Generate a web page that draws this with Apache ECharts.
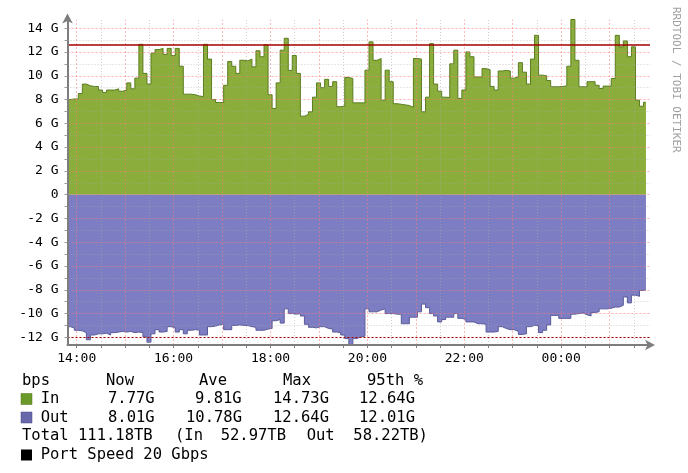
<!DOCTYPE html>
<html><head><meta charset="utf-8">
<script src="https://cdn.jsdelivr.net/npm/echarts@6/dist/echarts.min.js"></script>
<style>html,body{margin:0;padding:0;background:#fff}#c{width:688px;height:473px}</style>
</head><body><div id="c"></div>
<script>
// Time in minutes relative to 14:00; samples every 5 minutes
const startMinute = -13;
const stepMinutes = 5;
const endMinute = 705;

// Inbound traffic, Gbps
const inValues = [
 8.0, 8.05, 8.05, 8.5, 9.3, 9.15, 9.1, 9.1, 8.8, 8.6,
 8.8, 8.8, 8.9, 8.7, 8.8, 9.4, 8.9, 9.8, 12.64, 10.2,
 9.3, 11.9, 12.2, 12.3, 11.8, 12.3, 11.7, 12.3, 10.8, 8.45,
 8.45, 8.4, 8.3, 8.25, 12.64, 11.4, 8.0, 7.75, 7.75, 9.2,
 11.2, 10.8, 10.2, 11.3, 11.25, 11.4, 10.75, 12.1, 11.6, 12.6,
 8.4, 7.25, 9.4, 12.15, 13.15, 10.45, 11.7, 10.2, 6.6, 6.75,
 6.97, 8.2, 9.4, 9.0, 9.7, 9.1, 9.5, 7.4, 7.45, 9.85,
 9.77, 7.72, 7.72, 7.72, 10.47, 12.85, 11.3, 11.45, 7.95, 10.47,
 9.5, 7.65, 7.6, 7.55, 7.5, 7.35, 11.45, 11.4, 6.97, 8.2,
 12.7, 9.3, 8.7, 8.2, 8.17, 11.0, 12.15, 8.1, 8.8, 12.0,
 11.6, 9.9, 9.9, 10.6, 10.5, 9.1, 8.8, 10.4, 10.45, 10.4,
 9.8, 9.9, 11.1, 10.3, 9.3, 11.4, 13.4, 10.05, 10.0, 9.6,
 9.07, 9.07, 9.1, 9.15, 10.8, 14.73, 11.3, 9.07, 9.07, 9.5,
 9.5, 9.2, 8.93, 9.13, 9.13, 9.77, 13.4, 12.43, 12.93, 11.6,
 12.43, 7.95, 7.44, 7.77
];

// Outbound traffic, Gbps (drawn below zero)
const outValues = [
 11.1, 11.2, 11.4, 11.45, 11.6, 12.2, 11.8, 11.7, 11.7, 11.65,
 11.8, 11.6, 11.55, 11.5, 11.55, 11.5, 11.6, 11.55, 11.6, 11.95,
 12.4, 11.7, 11.35, 11.55, 11.5, 11.1, 11.2, 11.55, 11.35, 11.7,
 11.4, 11.35, 11.4, 11.8, 11.8, 11.1, 11.05, 10.95, 10.9, 11.35,
 11.35, 11.0, 10.95, 11.0, 11.0, 11.1, 11.15, 11.4, 11.4, 11.3,
 11.25, 10.6, 10.5, 10.8, 9.6, 10.0, 10.05, 10.0, 10.2, 10.9,
 11.15, 11.2, 11.1, 11.1, 11.25, 11.3, 11.55, 11.6, 11.8, 12.1,
 12.64, 12.1, 11.95, 11.9, 9.6, 9.85, 9.85, 9.7, 9.6, 10.0,
 10.0, 10.05, 10.05, 10.85, 10.85, 10.3, 10.3, 9.85, 9.2, 9.5,
 10.0, 10.2, 10.7, 10.5, 10.3, 10.3, 10.0, 10.4, 10.5, 10.7,
 10.7, 10.85, 10.85, 10.9, 11.55, 11.55, 11.5, 11.1, 11.25, 11.35,
 11.35, 11.5, 11.75, 11.7, 11.1, 11.0, 11.0, 11.6, 11.4, 10.95,
 10.15, 10.15, 10.4, 10.4, 10.4, 10.05, 10.0, 9.95, 10.1, 10.2,
 9.9, 9.85, 9.6, 9.6, 9.55, 9.45, 9.45, 9.3, 8.6, 9.1,
 8.45, 8.55, 8.05, 8.01
];

const inPct95 = 12.64;
const outPct95 = 12.01;

const yMin = -12.64, yMax = 14.73;
const yLabelValues = [-12, -10, -8, -6, -4, -2, 0, 2, 4, 6, 8, 10, 12, 14];
const yMinorValues = [-11, -9, -7, -5, -3, -1, 1, 3, 5, 7, 9, 11, 13];
const xMin = -11.4, xMax = 710;
const xLabelValues = [0, 120, 240, 360, 480, 600];
const xHourValues = [0, 60, 120, 180, 240, 300, 360, 420, 480, 540, 600, 660];
const xHalfHourValues = [30, 90, 150, 210, 270, 330, 390, 450, 510, 570, 630, 690];

const legendHeader = ['bps', 'Now', 'Ave', 'Max', '95th %'];
const legendIn = ['In', '7.77G', '9.81G', '14.73G', '12.64G'];
const legendOut = ['Out', '8.01G', '10.78G', '12.64G', '12.01G'];
const totalRow = ['Total', '111.18TB', '(In', '52.97TB', 'Out', '58.22TB)'];
const portSpeed = 'Port Speed 20 Gbps';
const watermark = 'RRDTOOL / TOBI OETIKER';

function toSeries(vals, sign) {
  const d = vals.map((v, i) => [startMinute + i * stepMinutes, sign * v]);
  d.push([endMinute, sign * vals[vals.length - 1]]);
  return d;
}
function fmtTime(v) {
  const m = ((14 * 60 + v) % 1440 + 1440) % 1440;
  const h = Math.floor(m / 60), mm = m % 60;
  return String(h).padStart(2, '0') + ':' + String(mm).padStart(2, '0');
}

const MONO = 'DejaVu Sans Mono';
const majorStyle = { color: 'rgba(255,120,120,0.6)', width: 1, type: [2, 2] };
const majorVStyle = { color: 'rgba(255,120,120,0.5)', width: 1, type: [2, 2] };
const minorStyle = { color: 'rgba(170,170,170,0.55)', width: 1, type: [1, 2] };

const gridLines = [];
yLabelValues.forEach(v => gridLines.push({ yAxis: v, lineStyle: majorStyle }));
yMinorValues.forEach(v => gridLines.push({ yAxis: v, lineStyle: minorStyle }));
xHourValues.forEach(v => gridLines.push({ xAxis: v, lineStyle: majorVStyle }));
xHalfHourValues.forEach(v => gridLines.push({ xAxis: v, lineStyle: minorStyle }));

const chart = echarts.init(document.getElementById('c'), null, { renderer: 'canvas' });

const graphics = [];
function txt(x, y, s) {
  graphics.push({
    type: 'text', x: x, y: y,
    style: { text: s, fill: '#000', font: '15.5px "' + MONO + '"', textVerticalAlign: 'middle', textAlign: 'left' }
  });
}
const colX = [22, 106, 199, 283, 367];
legendHeader.forEach((s, i) => txt(colX[i], 381, s));
const rowX = [40.7, 108, 195, 273, 359];
const rowXOut = [40.7, 108, 186, 273, 359];
legendIn.forEach((s, i) => txt(rowX[i], 399, s));
legendOut.forEach((s, i) => txt(rowXOut[i], 417.5, s));
const totX = [22, 78, 175, 220.7, 306.7, 353.3];
totalRow.forEach((s, i) => txt(totX[i], 436, s));
txt(40.7, 455, portSpeed);
graphics.push({ type: 'rect', shape: { x: 21, y: 393.5, width: 11, height: 11 }, style: { fill: '#6b9a2a', stroke: '#4d7418', lineWidth: 0.5 } });
graphics.push({ type: 'rect', shape: { x: 21, y: 412, width: 11, height: 11 }, style: { fill: '#6767a9', stroke: '#4a4a88', lineWidth: 0.5 } });
graphics.push({ type: 'rect', shape: { x: 21, y: 449.5, width: 11, height: 11 }, style: { fill: '#000' } });
graphics.push({
  type: 'text', x: 676, y: 7, rotation: -Math.PI / 2,
  style: { text: watermark, fill: '#a0a0a0', font: '11px "' + MONO + '"', textAlign: 'left', textVerticalAlign: 'middle' }
});

chart.setOption({
  animation: false,
  backgroundColor: '#fff',
  grid: { left: 67.5, right: 38, top: 19.5, bottom: 128, containLabel: false },
  xAxis: {
    type: 'value', min: xMin, max: xMax, z: 20,
    axisLine: { show: true, onZero: false, lineStyle: { color: '#7d7d7d', width: 2 },
      symbol: ['none', 'arrow'], symbolSize: [8, 10], symbolOffset: [0, 5] },
    axisTick: { show: true, length: 3, lineStyle: { color: '#7d7d7d' },
      customValues: xHourValues.concat(xHalfHourValues) },
    axisLabel: { customValues: xLabelValues, formatter: v => fmtTime(v), margin: 7,
      color: '#000', fontFamily: MONO, fontSize: 13 },
    splitLine: { show: false }
  },
  yAxis: {
    type: 'value', min: yMin, max: yMax, z: 20,
    axisLine: { show: true, onZero: false, lineStyle: { color: '#7d7d7d', width: 2 },
      symbol: ['none', 'arrow'], symbolSize: [8, 10], symbolOffset: [0, 6] },
    axisTick: { show: true, length: 3, lineStyle: { color: '#9a9a9a' },
      customValues: yLabelValues.concat(yMinorValues) },
    axisLabel: { customValues: yLabelValues, formatter: v => v === 0 ? '0' : v + ' G', margin: 9,
      color: '#000', fontFamily: MONO, fontSize: 13 },
    splitLine: { show: false }
  },
  series: [
    {
      name: 'In', type: 'line', step: 'end', data: toSeries(inValues, 1),
      symbol: 'none', z: 2, clip: true,
      lineStyle: { color: '#5a7d1e', width: 1 },
      areaStyle: { color: '#8bad3c', opacity: 1 }
    },
    {
      name: 'Out', type: 'line', step: 'end', data: toSeries(outValues, -1),
      symbol: 'none', z: 2, clip: true,
      lineStyle: { color: '#5b5b9a', width: 1 },
      areaStyle: { color: '#7d7dc3', opacity: 1 }
    },
    {
      name: 'grid', type: 'line', data: [], z: 5, silent: true,
      markLine: { silent: true, symbol: ['none', 'none'], label: { show: false }, animation: false,
        data: gridLines }
    },
    {
      name: 'pct', type: 'line', data: [], z: 6, silent: true,
      markLine: { silent: true, symbol: ['none', 'none'], label: { show: false }, animation: false,
        data: [
          { yAxis: inPct95, lineStyle: { color: '#a30000', width: 1.5, type: 'solid' } },
          { yAxis: -outPct95, lineStyle: { color: '#a30000', width: 1, type: [2, 2] } }
        ] }
    }
  ],
  graphic: graphics
});
</script>
</body></html>
